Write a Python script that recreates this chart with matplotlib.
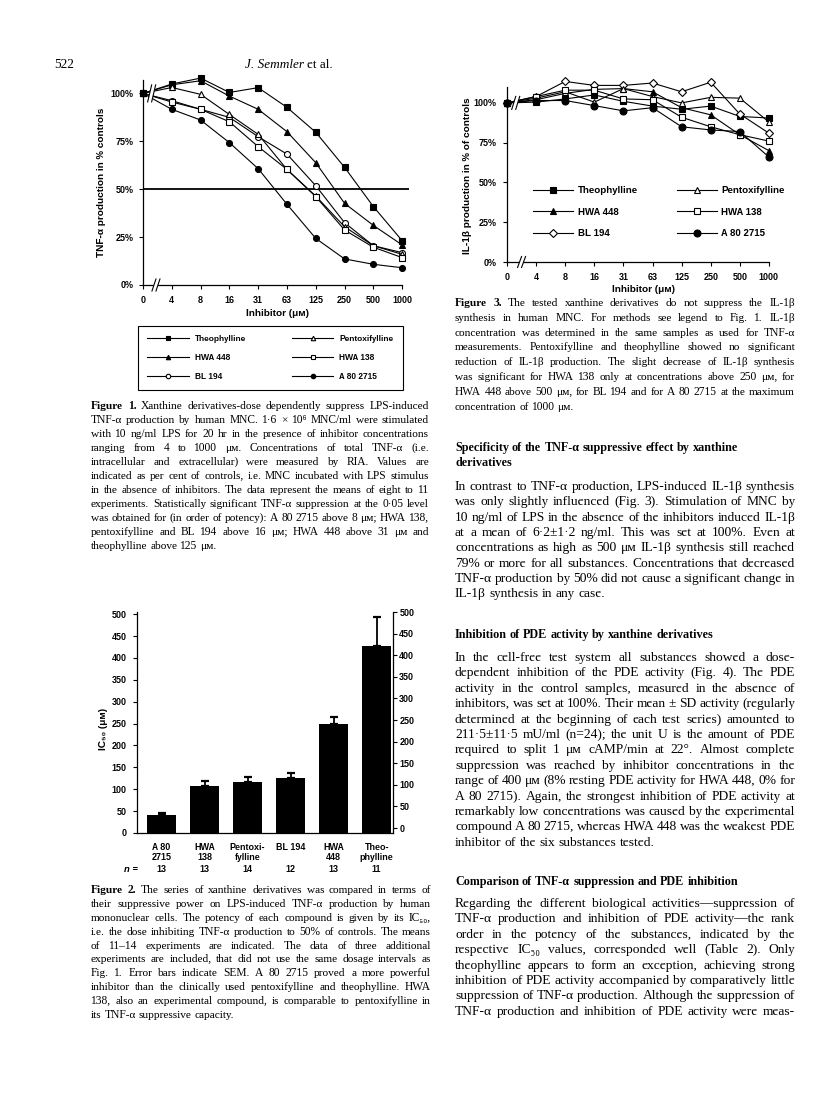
import numpy as np
import matplotlib
matplotlib.use("Agg")
import matplotlib.pyplot as plt
from matplotlib import transforms

W, H = 816, 1094
SANS = ["Liberation Sans", "DejaVu Sans"]
SERIF = ["Liberation Serif", "DejaVu Serif"]
plt.rcParams["font.family"] = SANS
plt.rcParams["text.hinting"] = "native"

# ---- data ----
doses = ["0", "4", "8", "16", "31", "63", "125", "250", "500", "1000"]
compounds = ["Theophylline", "Pentoxifylline", "HWA 448", "HWA 138", "BL 194", "A 80 2715"]

# Fig. 1: TNF-alpha production, % of controls
tnf_theophylline = [100, 104.9, 108, 100.5, 103, 92.7, 79.7, 61.4, 40.9, 23.1]
tnf_pentoxifylline = [100, 103.1, 99.5, 89, 78.6, 60.3, 46.4, 30.4, 20.5, 16]
tnf_hwa448 = [100, 104.5, 106.6, 98.6, 91.7, 80, 63.8, 42.6, 31.1, 20.9]
tnf_hwa138 = [100, 95.5, 91.7, 85.2, 72.2, 60.3, 46.1, 28.7, 19.7, 14.3]
tnf_bl194 = [100, 96.2, 91.7, 87.5, 77.4, 68.3, 51.8, 32.5, 20.5, 16.9]
tnf_a802715 = [100, 91.7, 86.1, 74.3, 60.7, 42.1, 24.3, 13.6, 10.8, 9]

# Fig. 3: IL-1beta production, % of controls
il1_theophylline = [100, 100.5, 102.5, 105, 101, 98, 96, 98, 91.5, 90.5]
il1_pentoxifylline = [100, 103, 107, 100.5, 109, 104, 100, 103.5, 103, 88]
il1_hwa448 = [100, 102, 106, 108.5, 109, 107, 97, 92.5, 80, 70]
il1_hwa138 = [100, 104, 108, 108, 102.5, 102, 91, 85, 80, 76]
il1_bl194 = [100, 104, 113.5, 111, 111, 112.5, 107, 113, 93, 81]
il1_a802715 = [100, 101.5, 101.5, 98.3, 95, 97, 85, 83, 82, 66]

# Fig. 2: IC50 (uM), SEM and number of experiments
ic50_labels = ["A 80\n2715", "HWA\n138", "Pentoxi-\nfylline", "BL 194", "HWA\n448", "Theo-\nphylline"]
ic50 = [42, 107, 117, 126, 249, 428]
ic50_sem = [4, 11, 11, 11, 15, 66]
ic50_n = [13, 13, 14, 12, 13, 11]

tnf = dict(zip(compounds, [tnf_theophylline, tnf_pentoxifylline, tnf_hwa448,
                           tnf_hwa138, tnf_bl194, tnf_a802715]))
il1 = dict(zip(compounds, [il1_theophylline, il1_pentoxifylline, il1_hwa448,
                           il1_hwa138, il1_bl194, il1_a802715]))

# ---- page text ----
cap1 = [
    "**Figure 1.** Xanthine derivatives-dose dependently suppress LPS-induced",
    "TNF-α production by human MNC. 1·6 × 10⁶ MNC/ml were stimulated",
    "with 10 ng/ml LPS for 20 hr in the presence of inhibitor concentrations",
    "ranging from 4 to 1000 μм. Concentrations of total TNF-α (i.e.",
    "intracellular and extracellular) were measured by RIA. Values are",
    "indicated as per cent of controls, i.e. MNC incubated with LPS stimulus",
    "in the absence of inhibitors. The data represent the means of eight to 11",
    "experiments. Statistically significant TNF-α suppression at the 0·05 level",
    "was obtained for (in order of potency): A 80 2715 above 8 μм; HWA 138,",
    "pentoxifylline and BL 194 above 16 μм; HWA 448 above 31 μм and",
    "theophylline above 125 μм.",
]
cap2 = [
    "**Figure 2.** The series of xanthine derivatives was compared in terms of",
    "their suppressive power on LPS-induced TNF-α production by human",
    "mononuclear cells. The potency of each compound is given by its IC₅₀,",
    "i.e. the dose inhibiting TNF-α production to 50% of controls. The means",
    "of 11–14 experiments are indicated. The data of three additional",
    "experiments are included, that did not use the same dosage intervals as",
    "Fig. 1. Error bars indicate SEM. A 80 2715 proved a more powerful",
    "inhibitor than the clinically used pentoxifylline and theophylline. HWA",
    "138, also an experimental compound, is comparable to pentoxifylline in",
    "its TNF-α suppressive capacity.",
]
cap3 = [
    "**Figure 3.** The tested xanthine derivatives do not suppress the IL-1β",
    "synthesis in human MNC. For methods see legend to Fig. 1. IL-1β",
    "concentration was determined in the same samples as used for TNF-α",
    "measurements. Pentoxifylline and theophylline showed no significant",
    "reduction of IL-1β production. The slight decrease of IL-1β synthesis",
    "was significant for HWA 138 only at concentrations above 250 μм, for",
    "HWA 448 above 500 μм, for BL 194 and for A 80 2715 at the maximum",
    "concentration of 1000 μм.",
]
head1 = ["Specificity of the TNF-α suppressive effect by xanthine", "derivatives"]
para1 = [
    "In contrast to TNF-α production, LPS-induced IL-1β synthesis",
    "was only slightly influenced (Fig. 3). Stimulation of MNC by",
    "10 ng/ml of LPS in the absence of the inhibitors induced IL-1β",
    "at a mean of 6·2±1·2 ng/ml. This was set at 100%. Even at",
    "concentrations as high as 500 μм IL-1β synthesis still reached",
    "79% or more for all substances. Concentrations that decreased",
    "TNF-α production by 50% did not cause a significant change in",
    "IL-1β synthesis in any case.",
]
head2 = ["Inhibition of PDE activity by xanthine derivatives"]
para2 = [
    "In the cell-free test system all substances showed a dose-",
    "dependent inhibition of the PDE activity (Fig. 4). The PDE",
    "activity in the control samples, measured in the absence of",
    "inhibitors, was set at 100%. Their mean ± SD activity (regularly",
    "determined at the beginning of each test series) amounted to",
    "211·5±11·5 mU/ml (n=24); the unit U is the amount of PDE",
    "required to split 1 μм cAMP/min at 22°. Almost complete",
    "suppression was reached by inhibitor concentrations in the",
    "range of 400 μм (8% resting PDE activity for HWA 448, 0% for",
    "A 80 2715). Again, the strongest inhibition of PDE activity at",
    "remarkably low concentrations was caused by the experimental",
    "compound A 80 2715, whereas HWA 448 was the weakest PDE",
    "inhibitor of the six substances tested.",
]
head3 = ["Comparison of TNF-α suppression and PDE inhibition"]
para3 = [
    "Regarding the different biological activities—suppression of",
    "TNF-α production and inhibition of PDE activity—the rank",
    "order in the potency of the substances, indicated by the",
    "respective IC₅₀ values, corresponded well (Table 2). Only",
    "theophylline appears to form an exception, achieving strong",
    "inhibition of PDE activity accompanied by comparatively little",
    "suppression of TNF-α production. Although the suppression of",
    "TNF-α production and inhibition of PDE activity were meas-",
]

styles = {
    "Theophylline": ("s", "k"),
    "Pentoxifylline": ("^", "w"),
    "HWA 448": ("^", "k"),
    "HWA 138": ("s", "w"),
    "BL 194": ("o", "w"),
    "A 80 2715": ("o", "k"),
}
legend_order = ["Theophylline", "HWA 448", "BL 194", "Pentoxifylline", "HWA 138", "A 80 2715"]

fig = plt.figure(figsize=(W / 100, H / 100), dpi=100)
fig.patch.set_facecolor("white")
renderer = fig.canvas.get_renderer()


def add_ax(l, t, r, b):
    return fig.add_axes([l / W, 1 - b / H, (r - l) / W, (b - t) / H])


def ftext(x, y, s, **kw):
    return fig.text(x / W, 1 - y / H, s, **kw)


def bold_ticks(ax):
    for lab in ax.get_xticklabels() + ax.get_yticklabels():
        lab.set_fontweight("bold")


def brk(ax, x, y, h=16, s=4, g=4):
    # "//" axis break drawn over lines / spine
    X, Y = ax.transData.transform((x, y))
    inv = ax.transData.inverted()

    def P(dx, dy):
        return inv.transform((X + dx, Y + dy))

    poly = [P(-g / 2 - s / 2, -h / 2), P(g / 2 - s / 2, -h / 2),
            P(g / 2 + s / 2, h / 2), P(-g / 2 + s / 2, h / 2)]
    ax.add_patch(plt.Polygon(poly, closed=True, fc="white", ec="none", zorder=6, clip_on=False))
    for sg in (-1, 1):
        a = P(sg * g / 2 - s / 2, -h / 2)
        b = P(sg * g / 2 + s / 2, h / 2)
        ax.plot([a[0], b[0]], [a[1], b[1]], color="k", lw=0.8, zorder=7, clip_on=False)


def line_panel(ax, series, ms, bl_marker, bl_ms):
    x = np.arange(len(doses))
    hs = []
    for name in legend_order:
        m, fc = styles[name]
        size = ms
        if name == "BL 194":
            m, size = bl_marker, bl_ms
        h, = ax.plot(x, series[name], color="k", lw=0.8, marker=m, ms=size, mfc=fc,
                     mec="k", mew=0.8, clip_on=False, zorder=3, label=name)
        hs.append(h)
    ax.set_xticks(x, doses)
    ax.set_yticks([0, 25, 50, 75, 100], ["0%", "25%", "50%", "75%", "100%"])
    for sp in ("top", "right"):
        ax.spines[sp].set_visible(False)
    for sp in ("left", "bottom"):
        ax.spines[sp].set_linewidth(0.9)
    ax.spines["bottom"].set_bounds(0, len(doses) - 1)
    bold_ticks(ax)
    return hs


# ---------------- Figure 1 ----------------
ax1 = add_ax(143, 80, 143 + 9.25 * 28.8, 285)
ax1.set_xlim(0, 9.25)
ax1.set_ylim(0, 107)
h1 = line_panel(ax1, tnf, 4.3, "o", 4.3)
ax1.axhline(50, color="k", lw=1.3, zorder=2)
ax1.tick_params(labelsize=6.5, length=3, width=0.8)
ax1.tick_params(axis="y", pad=3.6)
ax1.tick_params(axis="x", pad=5.2)
bold_ticks(ax1)
brk(ax1, 0.3, 100, h=17)
brk(ax1, 0.45, 0, h=12)
ftext(102, 182, "TNF-α production in % controls", rotation=90, ha="center", va="center",
      fontsize=7.2, fontweight="bold")
ftext(277, 313, "Inhibitor (μм)", ha="center", va="center", fontsize=7.2, fontweight="bold")
leg1 = fig.legend(h1, legend_order, ncol=2, loc="upper left",
                  bbox_to_anchor=(138 / W, 1 - 326 / H), bbox_transform=fig.transFigure,
                  frameon=True, fancybox=False, edgecolor="k", framealpha=1,
                  borderaxespad=0, prop=dict(family=SANS, size=6, weight="bold"),
                  handlelength=5, handletextpad=0.7, columnspacing=5.5,
                  labelspacing=1.3, borderpad=1.1, markerscale=0.75)
leg1.get_frame().set_linewidth(0.8)

# ---------------- Figure 3 ----------------
ax3 = add_ax(507, 87, 507 + 9.1 * 29.1, 262)
ax3.set_xlim(0, 9.1)
ax3.set_ylim(0, 110)
h3 = line_panel(ax3, il1, 5, "D", 4.2)
ax3.tick_params(labelsize=6.5, length=3, width=0.8)
ax3.tick_params(axis="y", pad=4.3)
ax3.tick_params(axis="x", pad=4.7)
bold_ticks(ax3)
brk(ax3, 0.3, 100, h=13)
brk(ax3, 0.5, 0, h=11)
ftext(468, 176, "IL-1β production in % of controls", rotation=90, ha="center", va="center",
      fontsize=7.2, fontweight="bold")
ftext(644, 290, "Inhibitor (μм)", ha="center", va="center", fontsize=7.2, fontweight="bold")
ax3.legend(h3, legend_order, ncol=2, loc="upper left",
           bbox_to_anchor=(533 / W, 1 - 186 / H), bbox_transform=fig.transFigure,
           frameon=False, borderaxespad=0, borderpad=0,
           prop=dict(family=SANS, size=7, weight="bold"),
           handlelength=4.1, handletextpad=0.5, columnspacing=4, labelspacing=1.3)

# ---------------- Figure 2 ----------------
ax2 = add_ax(137, 612, 393, 833)
pos = np.arange(len(ic50))
ax2.bar(pos, ic50, width=0.67, color="k", zorder=2)
ax2.errorbar(pos, ic50, yerr=[np.zeros(len(ic50)), ic50_sem], fmt="none", ecolor="k",
             elinewidth=1.3, capsize=3, capthick=1.6, zorder=3)
ax2.set_xlim(-0.57, 5.38)
ax2.set_ylim(0, 505)
ax2.set_yticks(range(0, 501, 50))
ax2.set_xticks(pos, ic50_labels, linespacing=1.15)
ax2.tick_params(axis="x", length=0, pad=7.5, labelsize=6.5)
ax2.tick_params(axis="y", length=3, width=0.8, pad=4.3, labelsize=6.5)
for sp in ("top", "right"):
    ax2.spines[sp].set_visible(False)
for sp in ("left", "bottom"):
    ax2.spines[sp].set_linewidth(0.9)
bold_ticks(ax2)
tw = ax2.twinx()
tw.set_ylim(-11.4, 505 - 11.4)
tw.set_yticks(range(0, 501, 50))
tw.tick_params(axis="y", length=3, width=0.8, pad=1.5, labelsize=6.5)
for sp in ("top", "left", "bottom"):
    tw.spines[sp].set_visible(False)
tw.spines["right"].set_linewidth(0.9)
bold_ticks(tw)
ftext(103, 729, "IC₅₀ (μм)", rotation=90, ha="center", va="center",
      fontsize=7.2, fontweight="bold", family=SANS)
ftext(131, 870, "n =", ha="center", va="center", fontsize=6.8, fontweight="bold", style="italic")
nt = transforms.blended_transform_factory(ax2.transData, fig.transFigure)
for i, n in enumerate(ic50_n):
    ax2.text(pos[i], 1 - 870 / H, str(n), transform=nt, ha="center", va="center",
             fontsize=6.5, fontweight="bold")


# ---------------- running text ----------------
def parse(line):
    out = []
    for k, seg in enumerate(line.split("**")):
        st = {"fontweight": "bold"} if k % 2 else {}
        out += [(w, st) for w in seg.split()]
    return out


def put_words(words, x0, x1, y, size, justify):
    objs = [fig.text(0, 1 - y / H, w, fontsize=size, family=SERIF, va="baseline",
                     ha="left", **st) for w, st in words]
    widths = [t.get_window_extent(renderer).width for t in objs]
    space = size * 100 / 72 * 0.25
    gap = space
    if justify and len(objs) > 1:
        gap = max((x1 - x0 - sum(widths)) / (len(objs) - 1), space * 0.5)
    x = x0
    for t, w in zip(objs, widths):
        t.set_x(x / W)
        x += w + gap


def paragraph(lines, x0, x1, y0, dy, size, last_full=False, base=3):
    for i, ln in enumerate(lines):
        last = i == len(lines) - 1 and not last_full
        put_words(parse(ln), x0, x1, round(y0 + i * dy + base), size, not last)


def heading(lines, x0, y0, dy, size):
    for i, ln in enumerate(lines):
        put_words([(w, {"fontweight": "bold"}) for w in ln.split()], x0, x0,
                  round(y0 + i * dy + 3), size, False)


# header
ftext(54, 68, "522", family=SERIF, fontsize=9.5, va="baseline")
tj = ftext(245, 68, "J. Semmler", family=SERIF, fontsize=9.5, style="italic", va="baseline")
wj = tj.get_window_extent(renderer).width
ftext(245 + wj + 3, 68, "et al.", family=SERIF, fontsize=9.5, va="baseline")

CAP = 8.2
BODY = 9.7
paragraph(cap1, 91, 429, 406, 14.0, CAP)
paragraph(cap2, 91, 431, 890, 13.9, CAP)
paragraph(cap3, 455, 795, 303, 14.8, CAP)

heading(head1, 455, 448, 15.5, 8.7)
paragraph(para1, 455, 795, 487, 15.35, BODY)
heading(head2, 455, 635, 15.5, 8.7)
paragraph(para2, 455, 795, 658, 15.4, BODY)
heading(head3, 455, 882, 15.5, 8.7)
paragraph(para3, 455, 795, 904, 15.4, BODY, last_full=True)

fig.savefig("out.png", dpi=100)
